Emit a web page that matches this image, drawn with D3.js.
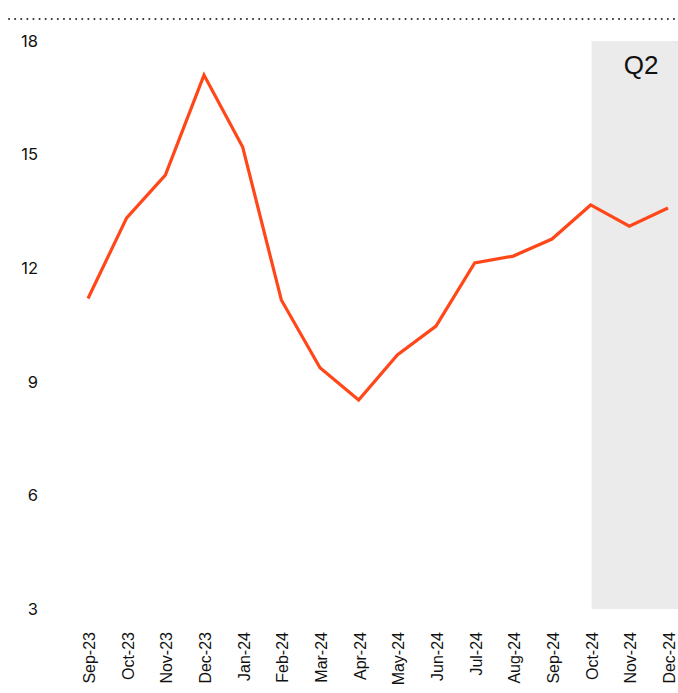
<!DOCTYPE html>
<html>
<head>
<meta charset="utf-8">
<script src="https://cdn.jsdelivr.net/npm/d3@7"></script>
<style>
  body { margin: 0; background: #fff; }
  .ylab { font-family: Inter, "Noto Sans", sans-serif; font-size: 16.5px; fill: #111; }
  .xlab { font-family: "Liberation Sans", Arial, sans-serif; font-size: 16px; fill: #111; }
</style>
</head>
<body>
<svg width="678" height="693"></svg>
<script>
var months = ["Sep-23", "Oct-23", "Nov-23", "Dec-23", "Jan-24", "Feb-24", "Mar-24", "Apr-24",
              "May-24", "Jun-24", "Jul-24", "Aug-24", "Sep-24", "Oct-24", "Nov-24", "Dec-24"];
var values = [11.2, 13.33, 14.46, 17.1, 15.2, 11.16, 9.37, 8.52,
              9.71, 10.47, 12.14, 12.32, 12.77, 13.67, 13.11, 13.59];
var yTicks = [3, 6, 9, 12, 15, 18];
var shadeFrom = "Oct-24";
var shadeLabel = "Q2";

var svg = d3.select("svg"),
    width = +svg.attr("width"),
    height = +svg.attr("height");

var x = d3.scalePoint().domain(months).range([88, 668]);
var y = d3.scaleLinear().domain([3, 18]).range([609, 41]);

// dotted rule at the top
svg.append("line")
    .attr("x1", 9).attr("x2", width)
    .attr("y1", 19).attr("y2", 19)
    .attr("stroke", "#333")
    .attr("stroke-width", 2)
    .attr("stroke-linecap", "round")
    .attr("stroke-dasharray", "0.1,6");

// shaded period
svg.append("rect")
    .attr("x", x(shadeFrom) + 1)
    .attr("y", y(18))
    .attr("width", width - x(shadeFrom) - 1)
    .attr("height", y(3) - y(18))
    .attr("fill", "#ebebeb");

svg.append("text")
    .attr("x", 641)
    .attr("y", 74)
    .attr("text-anchor", "middle")
    .attr("font-family", "'Liberation Sans', Arial, sans-serif")
    .attr("font-size", "26px")
    .attr("fill", "#111")
    .text(shadeLabel);

// y labels
svg.selectAll(".ylab")
    .data(yTicks)
    .enter().append("text")
    .attr("class", "ylab")
    .attr("x", 38)
    .attr("y", function (d) { return y(d); })
    .attr("dy", "0.35em")
    .attr("text-anchor", "end")
    .text(function (d) { return d; });

// x labels, rotated
svg.selectAll(".xlab")
    .data(months)
    .enter().append("text")
    .attr("class", "xlab")
    .attr("transform", function (d) { return "translate(" + (x(d) + 7) + ",632) rotate(-90)"; })
    .attr("text-anchor", "end")
    .text(function (d) { return d; });

var line = d3.line()
    .x(function (d, i) { return x(months[i]); })
    .y(function (d) { return y(d); });

svg.append("path")
    .datum(values)
    .attr("d", line)
    .attr("fill", "none")
    .attr("stroke", "#ff4719")
    .attr("stroke-width", 3.2)
    .attr("stroke-linejoin", "miter");
</script>
</body>
</html>
